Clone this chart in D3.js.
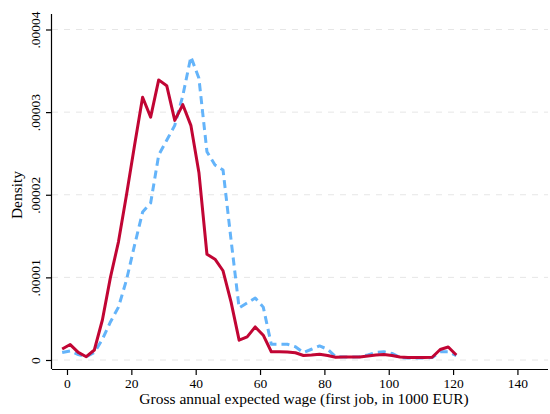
<!DOCTYPE html>
<html>
<head>
<meta charset="utf-8">
<script src="https://cdn.jsdelivr.net/npm/d3@7"></script>
<style>
  html, body { margin: 0; padding: 0; background: #fff; }
  svg { display: block; }
  text { font-family: "Liberation Serif", "DejaVu Serif", serif; fill: #000; }
</style>
</head>
<body>
<svg id="chart" width="550" height="414"></svg>
<script>
// Wage bins (1000 EUR), bin midpoints
const wages = [-1.5, 1, 3.5, 6, 8.5, 11, 13.5, 16, 18.5, 21, 23.5, 26, 28.5, 31, 33.5, 36, 38.5, 41, 43.5, 46,
  48.5, 51, 53.5, 56, 58.5, 61, 63.5, 66, 68.5, 71, 73.5, 76, 78.5, 81, 83.5, 86, 88.5, 91, 93.5, 96,
  98.5, 101, 103.5, 106, 108.5, 111, 113.5, 116, 118.5, 121];

// Density (x 1e-5), solid series
const densitySolid = [0.133, 0.187, 0.093, 0.040, 0.121, 0.484, 1.00, 1.43, 2.00, 2.60, 3.18, 2.94, 3.39, 3.32, 2.90, 3.09, 2.84, 2.27, 1.28, 1.22,
  1.08, 0.70, 0.24, 0.28, 0.40, 0.30, 0.10, 0.10, 0.097, 0.088, 0.055, 0.060, 0.069, 0.055, 0.033, 0.036, 0.036, 0.036, 0.048, 0.060,
  0.066, 0.054, 0.036, 0.030, 0.030, 0.030, 0.033, 0.127, 0.157, 0.060];

// Density (x 1e-5), dashed series
const densityDashed = [0.090, 0.110, 0.066, 0.040, 0.090, 0.25, 0.46, 0.64, 0.97, 1.39, 1.79, 1.90, 2.48, 2.66, 2.84, 3.20, 3.67, 3.41, 2.52, 2.36,
  2.30, 1.45, 0.63, 0.69, 0.75, 0.64, 0.19, 0.19, 0.19, 0.16, 0.09, 0.13, 0.17, 0.13, 0.04, 0.036, 0.036, 0.040, 0.060, 0.090,
  0.100, 0.080, 0.030, 0.024, 0.024, 0.024, 0.030, 0.100, 0.100, 0.054];

const xTicks = [0, 20, 40, 60, 80, 100, 120, 140];
const yTicks = [0, 0.00001, 0.00002, 0.00003, 0.00004];
const yTickLabels = ["0", ".00001", ".00002", ".00003", ".00004"];

const svg = d3.select("#chart");

const plotLeft = 52, plotRight = 548, plotBottom = 369, plotTop = 14;

const x = d3.scaleLinear().domain([-4.66, 149.5]).range([plotLeft, plotRight]);
const y = d3.scaleLinear().domain([0, 0.00004]).range([360, 29.5]);

// Horizontal dashed gridlines
svg.append("g").selectAll("line").data(yTicks).join("line")
  .attr("x1", plotLeft).attr("x2", plotRight)
  .attr("y1", d => y(d)).attr("y2", d => y(d))
  .attr("stroke", "#e6e6e6").attr("stroke-width", 1)
  .attr("stroke-dasharray", "6,6");

// Axes
const xAxis = d3.axisBottom(x).tickValues(xTicks).tickSize(6).tickPadding(3).tickSizeOuter(0);
const gx = svg.append("g").attr("transform", `translate(0,${plotBottom})`).call(xAxis);
gx.select(".domain").attr("d", `M${plotLeft},0.5H${plotRight}`).attr("stroke", "#000").attr("stroke-width", 1.2);
gx.selectAll(".tick line").attr("stroke", "#000").attr("stroke-width", 1.2);
gx.selectAll(".tick text").attr("font-size", 13.5).attr("font-family", "Liberation Serif");

const yAxis = d3.axisLeft(y).tickValues(yTicks).tickFormat((d, i) => yTickLabels[i]).tickSize(6).tickSizeOuter(0);
const gy = svg.append("g").attr("transform", `translate(${plotLeft},0)`).call(yAxis);
gy.select(".domain").attr("d", `M-0.5,${plotBottom}V${plotTop}`).attr("stroke", "#000").attr("stroke-width", 1.2);
gy.selectAll(".tick line").attr("stroke", "#000").attr("stroke-width", 1.2);
gy.selectAll(".tick text")
  .attr("font-size", 13.5).attr("font-family", "Liberation Serif")
  .attr("x", null).attr("dy", null)
  .attr("text-anchor", "middle")
  .attr("transform", "translate(-12,0) rotate(-90)");

// Axis titles
svg.append("text")
  .attr("x", 304).attr("y", 404)
  .attr("text-anchor", "middle").attr("font-size", 15.5)
  .text("Gross annual expected wage (first job, in 1000 EUR)");
svg.append("text")
  .attr("transform", "translate(22,195) rotate(-90)")
  .attr("text-anchor", "middle").attr("font-size", 15.5)
  .text("Density");

// Density lines
const line = d3.line().x((d, i) => x(wages[i])).y(d => y(d * 1e-5));

svg.append("path").datum(densityDashed)
  .attr("d", line)
  .attr("fill", "none").attr("stroke", "#64b4fa").attr("stroke-width", 3)
  .attr("stroke-dasharray", "8,5").attr("stroke-linejoin", "round");

svg.append("path").datum(densitySolid)
  .attr("d", line)
  .attr("fill", "none").attr("stroke", "#c10534").attr("stroke-width", 3)
  .attr("stroke-linejoin", "round");
</script>
</body>
</html>
